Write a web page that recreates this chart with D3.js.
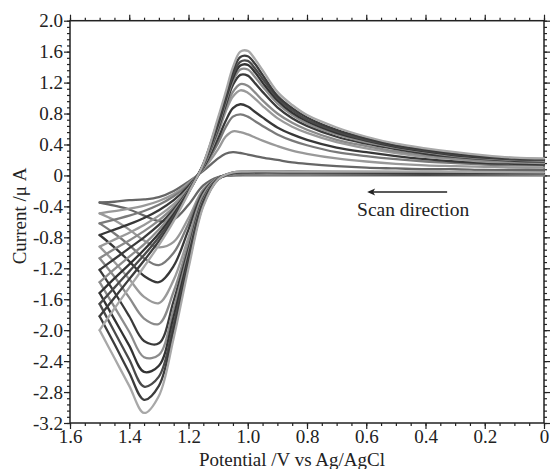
<!DOCTYPE html>
<html>
<head>
<meta charset="utf-8">
<script src="https://cdn.jsdelivr.net/npm/d3@7"></script>
<style>
    body { margin: 0; background: #fff; }
    text { font-family: "Liberation Serif", "Times New Roman", serif; fill: #222; }
</style>
</head>
<body>
<svg width="550" height="469"></svg>
<script>
var fwdPotentials = [0, 0.4, 0.8, 1.0, 1.05, 1.1, 1.15, 1.2, 1.25, 1.3, 1.35, 1.4, 1.45, 1.5];
var revPotentials = [1.5, 1.45, 1.4, 1.35, 1.3, 1.25, 1.2, 1.15, 1.1, 1.075, 1.05, 1.025, 1.0,
    0.975, 0.95, 0.9, 0.85, 0.8, 0.7, 0.6, 0.5, 0.4, 0.3, 0.2, 0.1, 0];

// forward scan currents (uA), smallest scan rate first
var fwdCurrents = [
    [0.0, 0.0, 0.0, 0.0, 0.0, -0.02, -0.13, -0.38, -0.57, -0.59, -0.52, -0.44, -0.39, -0.35],
    [0.0, 0.01, 0.01, 0.01, 0.0, -0.03, -0.18, -0.55, -0.86, -0.93, -0.84, -0.7, -0.58, -0.49],
    [0.01, 0.01, 0.01, 0.01, 0.0, -0.03, -0.2, -0.62, -1.0, -1.16, -1.07, -0.9, -0.75, -0.62],
    [0.01, 0.01, 0.02, 0.02, 0.01, -0.03, -0.22, -0.7, -1.17, -1.38, -1.3, -1.11, -0.93, -0.77],
    [0.01, 0.02, 0.02, 0.02, 0.01, -0.03, -0.25, -0.8, -1.35, -1.65, -1.57, -1.34, -1.12, -0.92],
    [0.02, 0.02, 0.02, 0.02, 0.01, -0.04, -0.28, -0.88, -1.5, -1.92, -1.85, -1.58, -1.31, -1.07],
    [0.02, 0.02, 0.03, 0.03, 0.02, -0.04, -0.3, -0.95, -1.62, -2.17, -2.14, -1.82, -1.51, -1.22],
    [0.02, 0.03, 0.03, 0.03, 0.02, -0.04, -0.32, -1.0, -1.72, -2.32, -2.35, -2.02, -1.7, -1.38],
    [0.03, 0.03, 0.04, 0.04, 0.03, -0.04, -0.34, -1.05, -1.82, -2.46, -2.54, -2.2, -1.86, -1.52],
    [0.03, 0.04, 0.04, 0.04, 0.03, -0.05, -0.36, -1.1, -1.92, -2.6, -2.73, -2.38, -2.02, -1.66],
    [0.04, 0.04, 0.05, 0.05, 0.04, -0.05, -0.38, -1.15, -2.0, -2.72, -2.9, -2.55, -2.18, -1.82],
    [0.04, 0.05, 0.05, 0.05, 0.04, -0.05, -0.4, -1.2, -2.1, -2.85, -3.07, -2.72, -2.36, -2.0]
];

// reverse scan currents (uA)
var revCurrents = [
    [-0.35, -0.34, -0.32, -0.31, -0.28, -0.2, -0.08, 0.06, 0.22, 0.28, 0.3, 0.29, 0.27, 0.25, 0.23, 0.2, 0.17, 0.15, 0.12, 0.1, 0.09, 0.08, 0.08, 0.07, 0.07, 0.07],
    [-0.49, -0.46, -0.43, -0.39, -0.33, -0.24, -0.1, 0.08, 0.34, 0.5, 0.57, 0.56, 0.53, 0.49, 0.45, 0.38, 0.32, 0.28, 0.22, 0.18, 0.15, 0.13, 0.12, 0.11, 0.1, 0.1],
    [-0.62, -0.57, -0.52, -0.46, -0.38, -0.27, -0.12, 0.1, 0.42, 0.62, 0.76, 0.79, 0.76, 0.7, 0.64, 0.53, 0.45, 0.39, 0.3, 0.25, 0.21, 0.18, 0.16, 0.14, 0.13, 0.13],
    [-0.77, -0.7, -0.63, -0.55, -0.45, -0.32, -0.14, 0.1, 0.48, 0.7, 0.87, 0.92, 0.89, 0.82, 0.75, 0.62, 0.53, 0.46, 0.36, 0.3, 0.25, 0.21, 0.18, 0.16, 0.15, 0.14],
    [-0.92, -0.83, -0.74, -0.64, -0.52, -0.37, -0.17, 0.12, 0.55, 0.82, 1.02, 1.1, 1.07, 0.99, 0.9, 0.74, 0.63, 0.55, 0.43, 0.35, 0.29, 0.24, 0.21, 0.18, 0.17, 0.16],
    [-1.07, -0.95, -0.84, -0.72, -0.58, -0.41, -0.18, 0.12, 0.57, 0.86, 1.08, 1.18, 1.16, 1.07, 0.97, 0.8, 0.68, 0.59, 0.46, 0.38, 0.31, 0.26, 0.22, 0.19, 0.18, 0.17],
    [-1.22, -1.08, -0.94, -0.8, -0.64, -0.44, -0.19, 0.13, 0.6, 0.9, 1.17, 1.3, 1.29, 1.19, 1.08, 0.88, 0.74, 0.64, 0.5, 0.41, 0.34, 0.28, 0.24, 0.21, 0.19, 0.18],
    [-1.38, -1.21, -1.05, -0.89, -0.7, -0.47, -0.2, 0.13, 0.63, 0.94, 1.22, 1.37, 1.37, 1.27, 1.15, 0.93, 0.78, 0.67, 0.53, 0.43, 0.36, 0.3, 0.25, 0.22, 0.2, 0.19],
    [-1.52, -1.33, -1.15, -0.96, -0.75, -0.5, -0.21, 0.14, 0.66, 0.97, 1.26, 1.42, 1.43, 1.33, 1.2, 0.97, 0.81, 0.7, 0.55, 0.45, 0.37, 0.31, 0.26, 0.23, 0.21, 0.2],
    [-1.66, -1.45, -1.24, -1.03, -0.8, -0.53, -0.22, 0.14, 0.69, 1.0, 1.3, 1.47, 1.48, 1.38, 1.25, 1.0, 0.84, 0.72, 0.57, 0.46, 0.38, 0.32, 0.27, 0.24, 0.21, 0.2],
    [-1.82, -1.58, -1.34, -1.1, -0.85, -0.56, -0.22, 0.15, 0.72, 1.03, 1.35, 1.53, 1.54, 1.44, 1.3, 1.03, 0.87, 0.75, 0.59, 0.48, 0.39, 0.33, 0.28, 0.24, 0.22, 0.21],
    [-2.0, -1.72, -1.45, -1.18, -0.9, -0.59, -0.23, 0.15, 0.75, 1.07, 1.4, 1.6, 1.61, 1.5, 1.36, 1.08, 0.91, 0.78, 0.62, 0.5, 0.41, 0.35, 0.3, 0.26, 0.23, 0.22]
];

var curveColors = ["#666666", "#999999", "#7a7a7a", "#383838", "#9a9a9a", "#8a8a8a",
    "#3a3a3a", "#8c8c8c", "#333333", "#4a4a4a", "#3c3c3c", "#a8a8a8"];

var xTicks = [1.6, 1.4, 1.2, 1.0, 0.8, 0.6, 0.4, 0.2, 0];
var yTicks = [2.0, 1.6, 1.2, 0.8, 0.4, 0, -0.4, -0.8, -1.2, -1.6, -2.0, -2.4, -2.8, -3.2];

var svg = d3.select("svg");

var x = d3.scaleLinear().domain([1.6, 0]).range([70, 544]);
var y = d3.scaleLinear().domain([-3.2, 2.0]).range([423, 20.7]);

function fmt (d) {
    return d === 0 ? "0" : d.toFixed(1);
}

// minor ticks first, then major ones with labels
var xMinor = d3.range(0, 1.6001, 0.05);
var yMinor = d3.range(-3.2, 2.0001, 0.08);

function drawAxis (axisFn, scale, transform, major, minor, labels) {
    var gMin = svg.append("g").attr("transform", transform)
        .call(axisFn(scale).tickValues(minor).tickSize(3).tickFormat(""));
    gMin.select(".domain").remove();
    var g = svg.append("g").attr("transform", transform)
        .call(axisFn(scale).tickValues(major).tickSize(6).tickPadding(1)
            .tickFormat(labels ? fmt : ""));
    g.select(".domain").remove();
    g.selectAll("text").style("font-size", "19px").attr("fill", "#222");
    svg.selectAll(".tick line").attr("stroke", "#222").attr("stroke-width", 1.2);
}

drawAxis(d3.axisBottom, x, "translate(0,423)", xTicks, xMinor, true);
drawAxis(d3.axisTop, x, "translate(0,20.7)", xTicks, xMinor, false);
drawAxis(d3.axisLeft, y, "translate(70,0)", yTicks, yMinor, true);
drawAxis(d3.axisRight, y, "translate(544,0)", yTicks, yMinor, false);

svg.append("rect")
    .attr("x", x(1.6)).attr("y", y(2.0))
    .attr("width", x(0) - x(1.6)).attr("height", y(-3.2) - y(2.0))
    .attr("fill", "none").attr("stroke", "#222").attr("stroke-width", 1.5);

var line = d3.line()
    .x(function(d) { return x(d[0]); })
    .y(function(d) { return y(d[1]); })
    .curve(d3.curveCatmullRom.alpha(0.5));

var plot = svg.append("g");

fwdCurrents.forEach(function(vals, i) {
    var fwd = fwdPotentials.map(function(p, j) { return [p, vals[j]]; });
    var rev = revPotentials.map(function(p, j) { return [p, revCurrents[i][j]]; });
    [fwd, rev].forEach(function(pts) {
        plot.append("path")
            .attr("d", line(pts))
            .attr("fill", "none")
            .attr("stroke", curveColors[i])
            .attr("stroke-width", 2.3)
            .attr("stroke-linecap", "round")
            .attr("stroke-linejoin", "round");
    });
});

// scan direction annotation
var ay = y(-0.213);
svg.append("line")
    .attr("x1", x(0.327)).attr("y1", ay)
    .attr("x2", x(0.597) + 2).attr("y2", ay)
    .attr("stroke", "#222").attr("stroke-width", 1.5);
svg.append("path")
    .attr("d", "M" + x(0.597) + "," + ay + "l8,-3.5l-2,3.5l2,3.5z")
    .attr("fill", "#222");
svg.append("text")
    .attr("x", x(0.631)).attr("y", y(-0.52))
    .style("font-size", "19.5px")
    .text("Scan direction");

svg.append("text")
    .attr("x", 292).attr("y", 465.5)
    .attr("text-anchor", "middle")
    .style("font-size", "19px")
    .text("Potential /V vs Ag/AgCl");

svg.append("text")
    .attr("transform", "translate(26,216) rotate(-90)")
    .attr("text-anchor", "middle")
    .style("font-size", "19px")
    .text("Current /\u03bc A");
</script>
</body>
</html>
